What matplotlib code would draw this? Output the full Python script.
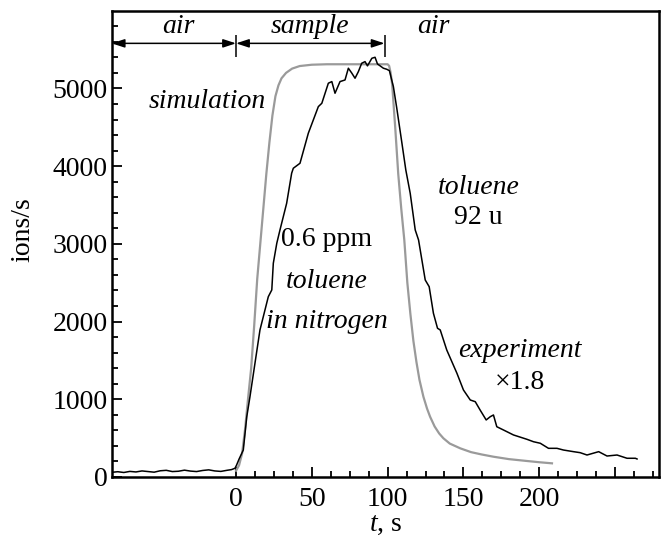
import numpy as np
import matplotlib
matplotlib.use("Agg")
import matplotlib.pyplot as plt
from matplotlib.ticker import FixedLocator, FuncFormatter

plt.rcParams["font.family"] = ["Liberation Serif", "DejaVu Serif"]
plt.rcParams["mathtext.fontset"] = "custom"
plt.rcParams["mathtext.rm"] = "Liberation Serif"
plt.rcParams["mathtext.it"] = "Liberation Serif:italic"

# experiment (x1.8), toluene 92 u
exp_t = [-82, -78, -74, -70, -66, -62, -58, -54, -50, -46, -42, -38, -34, -30,
         -26, -22, -18, -14, -10, -6, -3, -0.7, 0.3, 2, 4.8, 7.1, 9.2, 12.5,
         15.8, 18, 21.3, 23.6, 24.6, 26.9, 29, 33.4, 36.7, 37.8, 42.2, 47.7,
         54.3, 56.6, 60.9, 63.2, 65.3, 68.6, 71.9, 74.1, 76.4, 78.5, 80.7, 82.9,
         85.1, 86.7, 89.6, 91.7, 93.3, 97.2, 99.5, 101.2, 102.8, 103.8, 106,
         109.4, 112, 114.9, 118.2, 120.4, 124.8, 127.4, 130.2, 132.9,
         134.7, 139, 145.7, 150, 154.5, 157.8, 161, 165, 167.7, 169.8, 172,
         176.4, 183, 191.9, 196.2, 200.7, 206.1, 211.7, 216, 222.6, 227, 231.5,
         239.2, 244.7, 251.3, 257.9, 263.4, 264.5]
exp_y = [60, 68, 58, 72, 65, 78, 70, 62, 80, 86, 70, 74, 88, 76, 70, 84, 92,
         78, 72, 86, 95, 112, 150, 230, 347, 776, 1033, 1463, 1892, 2063, 2320,
         2407, 2750, 3008, 3179, 3522, 3909, 3973, 4037, 4424, 4766, 4809, 5067,
         5088, 4938, 5088, 5109, 5260, 5196, 5131, 5216, 5324, 5345, 5290, 5388,
         5401, 5315, 5260, 5246, 5228, 5100, 5023, 4750, 4300, 3950, 3650,
         3179, 3050, 2535, 2449, 2107, 1914, 1892, 1634, 1335, 1120, 991, 969,
         862, 734, 776, 798, 647, 605, 541, 485, 454, 434, 369, 369, 347, 326,
         313, 283, 326, 270, 283, 241, 241, 232]

# simulation
sim_t = [0, 2, 4, 6, 8, 10, 12, 14, 16, 18, 20, 22, 24, 26, 28, 30, 33, 37,
         42, 50, 60, 100, 101, 102, 103, 105, 107, 109, 111, 113, 115, 117,
         119, 121, 123.6, 126, 128, 131, 134, 136.8, 141, 147.9, 155, 162,
         169.8, 180, 191.9, 200, 208.4]
sim_y = [80, 150, 300, 620, 1020, 1400, 1950, 2550, 3000, 3450, 3900, 4300,
         4650, 4900, 5040, 5130, 5200, 5255, 5288, 5305, 5311, 5311, 5290,
         5200, 5050, 4500, 3900, 3450, 3050, 2500, 2100, 1750, 1480, 1250,
         1033, 880, 776, 650, 560, 498, 430, 369, 320, 290, 261, 230, 206, 190,
         176]

xlim = (-82, 279)
ylim = (0, 6000)
sample_end = 98

fig = plt.figure(figsize=(6.64, 5.41), dpi=100)
ax = fig.add_axes([0.1682, 0.1183, 0.8243, 0.8619])

ax.plot(sim_t, sim_y, color="#9a9a9a", lw=1.6, zorder=2)
ax.plot(exp_t, exp_y, color="black", lw=1.1, zorder=3)

ax.set_xlim(*xlim)
ax.set_ylim(*ylim)

ax.xaxis.set_major_locator(FixedLocator([0, 50, 100, 150, 200, 250]))
ax.xaxis.set_minor_locator(FixedLocator(np.arange(0, 276, 12.5)))
ax.xaxis.set_major_formatter(FuncFormatter(lambda v, p: "" if v > 200 else f"{v:.0f}"))
ax.yaxis.set_major_locator(FixedLocator(np.arange(0, 5001, 1000)))
ax.yaxis.set_minor_locator(FixedLocator(np.arange(0, 5801, 200)))

ax.tick_params(which="both", direction="in", top=False, right=False,
               labelsize=20, width=1.3)
ax.tick_params(which="major", length=7)
ax.tick_params(which="minor", length=4.5)
ax.tick_params(axis="x", which="major", pad=7)
ax.tick_params(axis="y", which="major", pad=3)
for s in ax.spines.values():
    s.set_linewidth(1.8)

ax.set_xlabel(r"$t$, s", fontsize=20, labelpad=0)
ax.set_ylabel("ions/s", fontsize=20)
ax.yaxis.set_label_coords(-0.14, 0.53)

# air / sample arrows
arr = dict(arrowstyle="<|-|>,head_length=0.55,head_width=0.18", color="black",
           lw=1.1, shrinkA=0, shrinkB=0, mutation_scale=14)
ax.annotate("", xy=(xlim[0], 5580), xytext=(0, 5580), arrowprops=arr)
ax.annotate("", xy=(0, 5580), xytext=(sample_end, 5580), arrowprops=arr)
ax.vlines([0, sample_end], 5400, 5690, color="black", lw=1.1)

fs = 20
ax.text(-38, 5800, "air", style="italic", fontsize=fs, ha="center", va="center")
ax.text(49, 5800, "sample", style="italic", fontsize=fs, ha="center", va="center")
ax.text(130, 5800, "air", style="italic", fontsize=fs, ha="center", va="center")
ax.text(-19, 4826, "simulation", style="italic", fontsize=fs, ha="center", va="center")
ax.text(60, 3050, "0.6 ppm", fontsize=fs, ha="center", va="center")
ax.text(60, 2520, "toluene", style="italic", fontsize=fs, ha="center", va="center")
ax.text(60, 2000, "in nitrogen", style="italic", fontsize=fs, ha="center", va="center")
ax.text(160, 3720, "toluene", style="italic", fontsize=fs, ha="center", va="center")
ax.text(160, 3340, "92 u", fontsize=fs, ha="center", va="center")
ax.text(187, 1634, "experiment", style="italic", fontsize=fs, ha="center", va="center")
ax.text(187, 1210, "\u00d71.8", fontsize=fs, ha="center", va="center")

fig.savefig("out.png", dpi=100)
